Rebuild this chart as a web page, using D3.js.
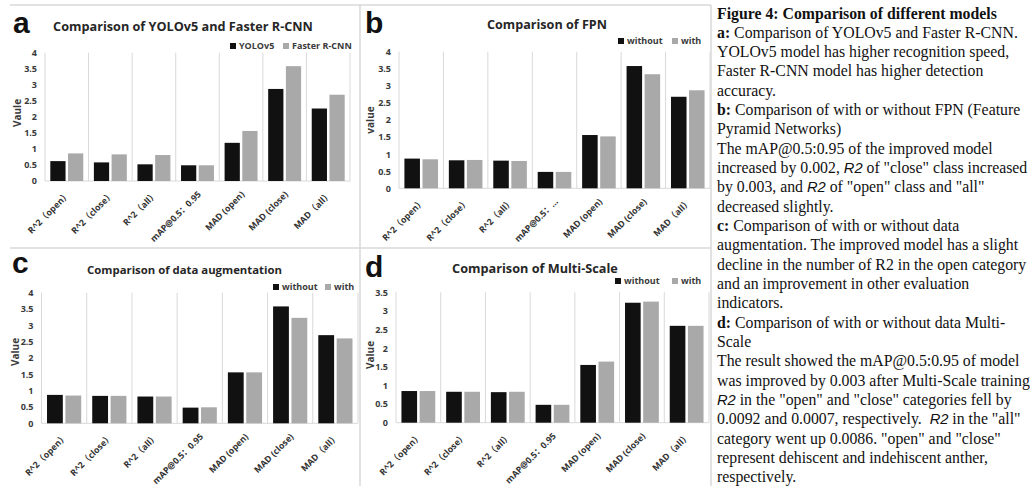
<!DOCTYPE html>
<html>
<head>
<meta charset="utf-8">
<script src="https://cdn.jsdelivr.net/npm/d3@7"></script>
<style>
  body { margin: 0; background: #fff; }
  svg { display: block; }
  .tick-label { font-family: "Open Sans", "Noto Sans CJK SC", sans-serif; font-weight: 700; font-size: 9px; fill: #3a3a3a; }
  .cat-label { font-family: "Open Sans", "Noto Sans CJK SC", sans-serif; font-weight: 700; font-size: 8.8px; fill: #333; }
  .title { font-family: "Open Sans", sans-serif; font-weight: 700; fill: #262626; }
  .letter { font-family: "Liberation Sans", Arial, sans-serif; font-weight: 700; font-size: 30px; fill: #111; }
  .caption { font-family: "Liberation Serif", "Times New Roman", serif; fill: #111; }
</style>
</head>
<body>
<div class="chart"></div>
<script>
//data

var categories = ["R^2（open）", "R^2（close）", "R^2（all）", "mAP@0.5：0.95", "MAD (open)", "MAD (close)", "MAD（all）"];
var categoriesFpn = ["R^2（open）", "R^2（close）", "R^2（all）", "mAP@0.5：…", "MAD (open)", "MAD (close)", "MAD（all）"];

var yoloV5 = [0.62, 0.58, 0.52, 0.49, 1.19, 2.87, 2.26];
var fasterRcnn = [0.86, 0.83, 0.81, 0.49, 1.56, 3.58, 2.69];

var fpnWithout = [0.87, 0.82, 0.81, 0.48, 1.56, 3.58, 2.68];
var fpnWith = [0.85, 0.83, 0.80, 0.48, 1.52, 3.34, 2.87];

var augWithout = [0.87, 0.84, 0.82, 0.48, 1.56, 3.58, 2.70];
var augWith = [0.85, 0.84, 0.82, 0.49, 1.56, 3.23, 2.60];

var msWithout = [0.85, 0.83, 0.82, 0.48, 1.55, 3.22, 2.60];
var msWith = [0.85, 0.83, 0.83, 0.48, 1.64, 3.25, 2.60];

var ticks4 = [0, 0.5, 1, 1.5, 2, 2.5, 3, 3.5, 4];
var ticks35 = [0, 0.5, 1, 1.5, 2, 2.5, 3, 3.5];

var seriesColors = ["#111111", "#a9a9a9"];

// caption lines: [text, style] segments
var captionLines = [
    [["Figure 4: Comparison of different models", "b"]],
    [["a:", "b"], [" Comparison of YOLOv5 and Faster R-CNN."]],
    [["YOLOv5 model has higher recognition speed,"]],
    [["Faster R-CNN model has higher detection"]],
    [["accuracy."]],
    [["b:", "b"], [" Comparison of with or without FPN (Feature"]],
    [["Pyramid Networks)"]],
    [["The mAP@0.5:0.95 of the improved model"]],
    [["increased by 0.002, "], ["R2", "i"], [" of \"close\" class increased"]],
    [["by 0.003, and "], ["R2", "i"], [" of \"open\" class and \"all\""]],
    [["decreased slightly."]],
    [["c:", "b"], [" Comparison of with or without data"]],
    [["augmentation. The improved model has a slight"]],
    [["decline in the number of R2 in the open category"]],
    [["and an improvement in other evaluation"]],
    [["indicators."]],
    [["d:", "b"], [" Comparison of with or without data Multi-"]],
    [["Scale"]],
    [["The result showed the mAP@0.5:0.95 of model"]],
    [["was improved by 0.003 after Multi-Scale training"]],
    [["R2", "i"], [" in the \"open\" and \"close\" categories fell by"]],
    [["0.0092 and 0.0007, respectively.  "], ["R2", "i"], [" in the \"all\""]],
    [["category went up 0.0086. \"open\" and \"close\""]],
    [["represent dehiscent and indehiscent anther,"]],
    [["respectively."]]
];

//layout

var svgWidth = 1034;
var svgHeight = 486;

var panels = [
    { letter: "a", title: "Comparison of YOLOv5 and Faster R-CNN", titleW: 260, yLabel: "Vaule",
      cats: categories, series: [yoloV5, fasterRcnn], names: ["YOLOv5", "Faster R-CNN"], ticks: ticks4,
      x0: 45, x1: 350, yTop: 52.7, y0: 181, letterPos: [13, 33], titlePos: [183, 30.5],
      yLabPos: [17, 113], legendX: [230, 283], legendY: 46 },
    { letter: "b", title: "Comparison of FPN", titleW: 120, yLabel: "value",
      cats: categoriesFpn, series: [fpnWithout, fpnWith], names: ["without", "with"], ticks: ticks4,
      x0: 399, x1: 710, yTop: 51.7, y0: 188.3, letterPos: [365, 33], titlePos: [547, 28.5],
      yLabPos: [370, 120], legendX: [618, 672], legendY: 41 },
    { letter: "c", title: "Comparison of data augmentation", titleW: 195, yLabel: "Value",
      cats: categories, series: [augWithout, augWith], names: ["without", "with"], ticks: ticks4,
      x0: 41.5, x1: 358, yTop: 292.7, y0: 423.3, letterPos: [12, 273], titlePos: [184.5, 273.5],
      yLabPos: [15, 352], legendX: [273, 325], legendY: 287 },
    { letter: "d", title: "Comparison of Multi-Scale", titleW: 166, yLabel: "Value",
      cats: categories, series: [msWithout, msWith], names: ["without", "with"], ticks: ticks35,
      x0: 396, x1: 709, yTop: 292.3, y0: 422.7, letterPos: [365, 277], titlePos: [535, 272.5],
      yLabPos: [370, 355], legendX: [615, 672], legendY: 281 }
];

var svg = d3.select(".chart")
    .append("svg")
    .attr("width", svgWidth)
    .attr("height", svgHeight);

// panel borders
var borderColor = "#d9d9d9";
var borders = [[10, 5, 711, 5], [10, 248, 711, 248], [360, 5, 360, 486], [711, 5, 711, 486]];
svg.selectAll("line.border")
    .data(borders)
    .enter()
    .append("line")
    .attr("x1", d => d[0]).attr("y1", d => d[1])
    .attr("x2", d => d[2]).attr("y2", d => d[3])
    .attr("stroke", borderColor)
    .attr("stroke-width", 1.5);

function drawPanel(p) {
    var g = svg.append("g");
    var maxTick = d3.max(p.ticks);

    var xScale = d3.scaleBand()
        .domain(p.cats)
        .range([p.x0, p.x1])
        .padding(0);

    var xInner = d3.scaleBand()
        .domain(d3.range(p.series.length))
        .range([0, xScale.bandwidth()])
        .paddingInner(0.14)
        .paddingOuter(0.3);

    var yScale = d3.scaleLinear()
        .domain([0, maxTick])
        .range([p.y0, p.yTop]);

    // vertical gridlines between categories
    var bounds = p.cats.map(c => xScale(c)).concat([p.x1]);
    g.selectAll("line.grid")
        .data(bounds)
        .enter()
        .append("line")
        .attr("x1", d => d).attr("x2", d => d)
        .attr("y1", yScale(maxTick)).attr("y2", p.y0)
        .attr("stroke", borderColor)
        .attr("stroke-width", 1);

    // axis line
    g.append("line")
        .attr("x1", p.x0).attr("x2", p.x1)
        .attr("y1", p.y0).attr("y2", p.y0)
        .attr("stroke", borderColor)
        .attr("stroke-width", 1);

    // y ticks
    var leftAxis = d3.axisLeft(yScale)
        .tickValues(p.ticks)
        .tickSize(0)
        .tickPadding(8)
        .tickFormat(d3.format("~g"));

    var yAxis = g.append("g")
        .attr("transform", `translate(${p.x0}, 0)`)
        .call(leftAxis);
    yAxis.select(".domain").remove();
    yAxis.selectAll("text")
        .attr("class", "tick-label")
        .attr("fill", null);
    yAxis.attr("font-size", null).attr("font-family", null);

    // bars
    p.series.forEach((vals, si) => {
        g.selectAll("rect.s" + si)
            .data(vals)
            .enter()
            .append("rect")
            .attr("x", (d, i) => xScale(p.cats[i]) + xInner(si))
            .attr("width", xInner.bandwidth())
            .attr("y", d => yScale(d))
            .attr("height", d => p.y0 - yScale(d))
            .attr("fill", seriesColors[si]);
    });

    // category labels, rotated
    g.selectAll("text.cat")
        .data(p.cats)
        .enter()
        .append("text")
        .attr("class", "cat-label")
        .attr("text-anchor", "end")
        .attr("transform", d => `translate(${xScale(d) + xScale.bandwidth() / 2 + 4}, ${p.y0 + 14}) rotate(-45)`)
        .text(d => d);

    // y label
    g.append("text")
        .attr("class", "tick-label")
        .style("font-size", "10px")
        .attr("text-anchor", "middle")
        .attr("transform", `translate(${p.yLabPos[0] + 4}, ${p.yLabPos[1]}) rotate(-90)`)
        .text(p.yLabel);

    // title, sized to the width in the picture
    var title = g.append("text")
        .attr("class", "title")
        .attr("x", p.titlePos[0])
        .attr("y", p.titlePos[1])
        .attr("text-anchor", "middle")
        .style("font-size", "12px")
        .text(p.title);
    var tw = title.node().getComputedTextLength();
    title.style("font-size", (12 * p.titleW / tw) + "px");

    // panel letter
    g.append("text")
        .attr("class", "letter")
        .attr("x", p.letterPos[0])
        .attr("y", p.letterPos[1])
        .text(p.letter);

    // legend
    p.names.forEach((name, si) => {
        g.append("rect")
            .attr("x", p.legendX[si])
            .attr("y", p.legendY - 3)
            .attr("width", 6)
            .attr("height", 6)
            .attr("fill", seriesColors[si]);
        g.append("text")
            .attr("class", "tick-label")
            .attr("x", p.legendX[si] + 9)
            .attr("y", p.legendY + 3.2)
            .text(name);
    });
}

panels.forEach(drawPanel);

// caption
var capX = 717;
var capY = 18.5;
var lineH = 19.33;
var fitLine = 19;      // "was improved by ... training" runs to the right edge
var fitWidth = 313;

var caption = svg.append("g");
var capTexts = captionLines.map((segs, li) => {
    var t = caption.append("text")
        .attr("class", "caption")
        .attr("x", capX)
        .attr("y", capY + li * lineH)
        .attr("xml:space", "preserve");
    segs.forEach(s => {
        var ts = t.append("tspan").text(s[0]).attr("class", s[1] || "");
        if (s[1] === "b") ts.attr("font-weight", 700);
        if (s[1] === "i") ts.attr("font-style", "italic").attr("font-family", "Liberation Sans, Arial, sans-serif");
    });
    return t;
});

function setCapSize(fs) {
    caption.selectAll("text").style("font-size", fs + "px");
    caption.selectAll("tspan.i").style("font-size", (fs * 0.93) + "px");
}
setCapSize(16);
var measured = capTexts[fitLine].node().getComputedTextLength();
setCapSize(16 * fitWidth / measured);
</script>
</body>
</html>
